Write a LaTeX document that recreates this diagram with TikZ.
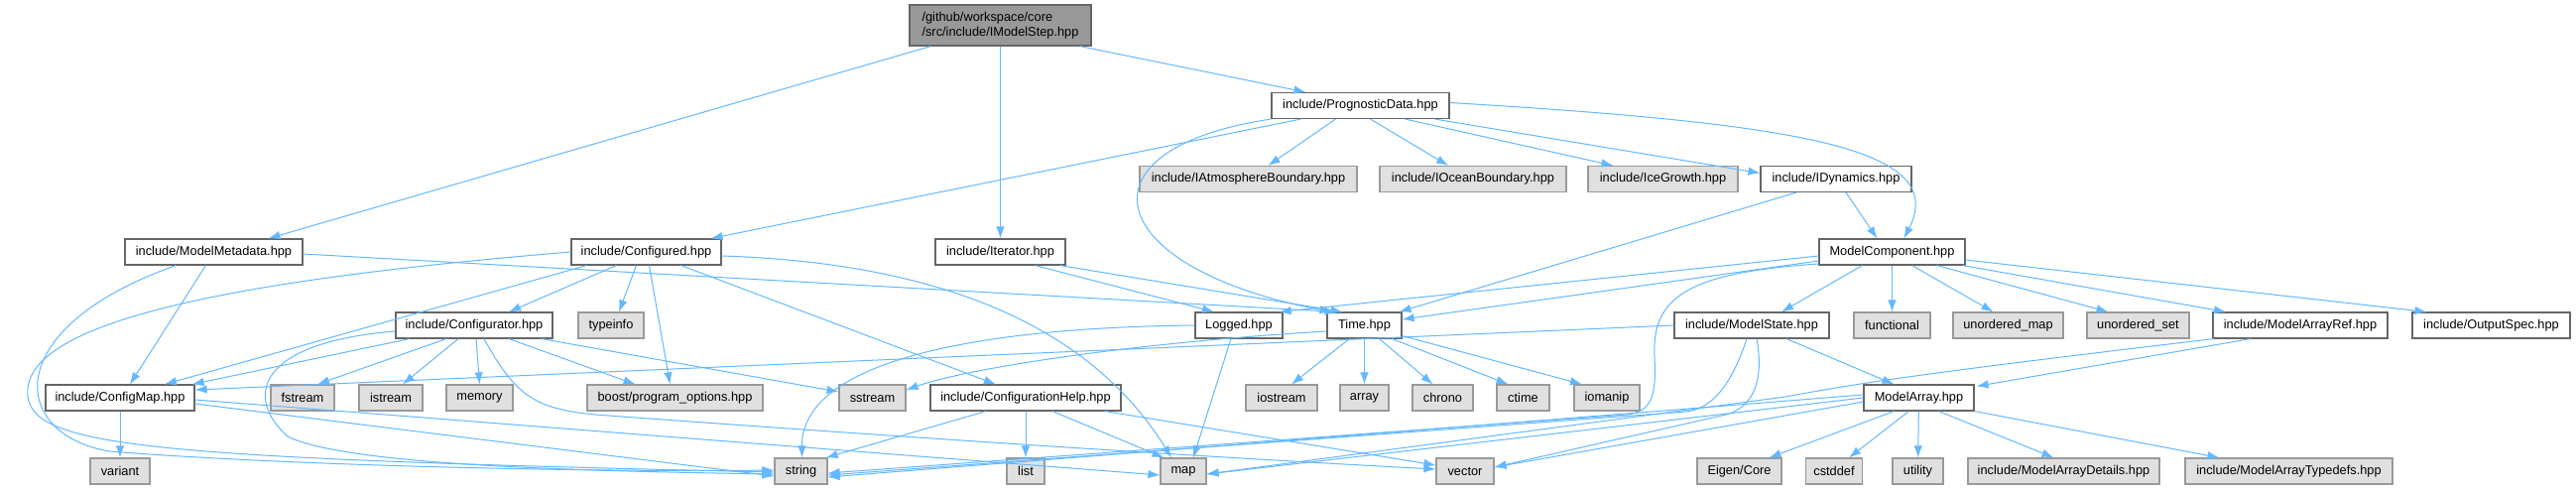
\documentclass[tikz,border=0pt]{standalone}
\usepackage{fontspec}
\setmainfont{Liberation Sans}
\usetikzlibrary{arrows.meta}
\definecolor{edgec}{HTML}{63B8FF}
\definecolor{wborder}{HTML}{666666}
\definecolor{gborder}{HTML}{999999}
\definecolor{gfill}{HTML}{E0E0E0}
\definecolor{rootfill}{HTML}{999999}
\tikzset{
  base/.style={rectangle, inner sep=0pt, minimum height=26pt, line width=1.1pt,
    font=\fontsize{12.8}{15}\selectfont, text=black},
  wbox/.style={base, draw=wborder, fill=white},
  gbox/.style={base, draw=gborder, fill=gfill},
  rootbox/.style={base, draw=wborder, fill=rootfill, minimum height=41pt, align=left},
  dep/.style={draw=edgec, line width=1.0pt, -{Latex[length=12pt,width=8.5pt]}}
}
\begin{document}
\begin{tikzpicture}[x=1pt,y=-1pt]
\fill[white] (0,0) rectangle (2597,493);
\useasboundingbox (0,0) rectangle (2597,493);
% row 0
\node[rootbox, minimum width=183pt] (root) at (1008.5,25.5) {/github/workspace/core\\/src/include/IModelStep.hpp};
% row 1
\node[wbox, minimum width=179pt] (pd) at (1371.5,106.5) {include/PrognosticData.hpp};
% row 2
\node[gbox, minimum width=219pt] (iatm) at (1258.5,180.5) {include/IAtmosphereBoundary.hpp};
\node[gbox, minimum width=188pt] (iocean) at (1485,180.5) {include/IOceanBoundary.hpp};
\node[gbox, minimum width=151pt] (icegrowth) at (1676.5,180.5) {include/IceGrowth.hpp};
\node[wbox, minimum width=152pt] (idyn) at (1851,180.5) {include/IDynamics.hpp};
% row 3
\node[wbox, minimum width=179pt] (mmeta) at (215.5,254) {include/ModelMetadata.hpp};
\node[wbox, minimum width=151pt] (configured) at (651.5,254) {include/Configured.hpp};
\node[wbox, minimum width=131pt] (iterator) at (1008.5,254) {include/Iterator.hpp};
\node[wbox, minimum width=147pt] (mcomp) at (1907.5,254) {ModelComponent.hpp};
% row 4
\node[wbox, minimum width=158pt] (configurator) at (478,328) {include/Configurator.hpp};
\node[gbox, minimum width=66pt] (typeinfo) at (616,328) {typeinfo};
\node[wbox, minimum width=88pt] (logged) at (1249,328) {Logged.hpp};
\node[wbox, minimum width=75pt] (time) at (1375.5,328) {Time.hpp};
\node[wbox, minimum width=156pt] (mstate) at (1766,328) {include/ModelState.hpp};
\node[gbox, minimum width=77pt] (functional) at (1907.5,328) {functional};
\node[gbox, minimum width=111pt] (umap) at (2024.5,328) {unordered\_map};
\node[gbox, minimum width=103pt] (uset) at (2155.5,328) {unordered\_set};
\node[wbox, minimum width=176pt] (marrref) at (2319,328) {include/ModelArrayRef.hpp};
\node[wbox, minimum width=159pt] (outspec) at (2511.5,328) {include/OutputSpec.hpp};
% row 5
\node[wbox, minimum width=150pt] (configmap) at (121,401) {include/ConfigMap.hpp};
\node[gbox, minimum width=64pt] (fstream) at (305,401) {fstream};
\node[gbox, minimum width=64pt] (istream) at (394,401) {istream};
\node[gbox, minimum width=67pt] (memory) at (483.5,401) {memory};
\node[gbox, minimum width=177pt] (boost) at (680.5,401) {boost/program\_options.hpp};
\node[gbox, minimum width=67pt] (sstream) at (879.5,401) {sstream};
\node[wbox, minimum width=192pt] (confhelp) at (1034,401) {include/ConfigurationHelp.hpp};
\node[gbox, minimum width=72pt] (iostream) at (1292,401) {iostream};
\node[gbox, minimum width=49pt] (array) at (1375.5,401) {array};
\node[gbox, minimum width=61pt] (chrono) at (1454.5,401) {chrono};
\node[gbox, minimum width=53pt] (ctime) at (1535.5,401) {ctime};
\node[gbox, minimum width=66pt] (iomanip) at (1620,401) {iomanip};
\node[wbox, minimum width=111pt] (marray) at (1934.5,401) {ModelArray.hpp};
% row 6
\node[gbox, minimum width=60pt] (variant) at (121,475) {variant};
\node[gbox, minimum width=53pt] (string) at (807.5,475) {string};
\node[gbox, minimum width=38pt] (list) at (1034,475) {list};
\node[gbox, minimum width=46pt] (map) at (1193,475) {map};
\node[gbox, minimum width=58pt] (vector) at (1477,475) {vector};
\node[gbox, minimum width=85pt] (eigen) at (1753.5,475) {Eigen/Core};
\node[gbox, minimum width=57pt] (cstddef) at (1849,475) {cstddef};
\node[gbox, minimum width=51pt] (utility) at (1933.5,475) {utility};
\node[gbox, minimum width=193pt] (mad) at (2080.5,475) {include/ModelArrayDetails.hpp};
\node[gbox, minimum width=209pt] (mat) at (2307.5,475) {include/ModelArrayTypedefs.hpp};

% root
\draw[dep] ([xshift=-70pt]root.south) -- ([xshift=55pt]mmeta.north);
\draw[dep] (root) -- (iterator);
\draw[dep] ([xshift=80pt]root.south) -- ([xshift=-55pt]pd.north);
% PrognosticData
\draw[dep] ([xshift=-60pt]pd.south) -- ([xshift=65pt]configured.north);
\draw[dep] (pd.south west) .. controls (1080,150) and (1110,270) .. ([xshift=-33pt]time.north);
\draw[dep] ([xshift=-25pt]pd.south) -- ([xshift=20pt]iatm.north);
\draw[dep] ([xshift=10pt]pd.south) -- ([xshift=-25pt]iocean.north);
\draw[dep] ([xshift=45pt]pd.south) -- ([xshift=-50pt]icegrowth.north);
\draw[dep] ([xshift=75pt]pd.south) -- ([yshift=6pt]idyn.west);
\draw[dep] ([yshift=3pt]pd.east) .. controls (1820,125) and (1965,150) .. ([xshift=12pt]mcomp.north);
% IDynamics
\draw[dep] ([xshift=10pt]idyn.south) -- ([xshift=-15pt]mcomp.north);
\draw[dep] ([xshift=-40pt]idyn.south) -- ([xshift=-3pt]time.north east);
% ModelMetadata
\draw[dep] ([xshift=-8pt]mmeta.south) -- ([xshift=10pt]configmap.north);
\draw[dep] ([xshift=-38pt]mmeta.south) .. controls (0,330) and (8,437) .. (110,455) .. controls (300,470) and (600,476) .. ([yshift=1pt]string.west);
\draw[dep] ([yshift=-2pt]mmeta.east) -- ([xshift=-28pt]time.north);
% Configured
\draw[dep] ([xshift=-60pt]configured.south) -- ([xshift=45pt]configmap.north);
\draw[dep] (configured.west) .. controls (200,285) and (20,330) .. (28,400) .. controls (35,450) and (150,462) .. ([yshift=-1pt]string.west);
\draw[dep] ([xshift=-30pt]configured.south) -- ([xshift=35pt]configurator.north);
\draw[dep] ([xshift=-10pt]configured.south) -- ([xshift=8pt]typeinfo.north);
\draw[dep] ([xshift=3pt]configured.south) -- ([xshift=-5pt]boost.north);
\draw[dep] ([xshift=35pt]configured.south) -- ([xshift=-30pt]confhelp.north);
\draw[dep] ([yshift=-4pt]configured.east) .. controls (950,265) and (1100,330) .. ([xshift=-12pt]map.north);
% Configurator
\draw[dep] ([xshift=-65pt]configurator.south) -- ([xshift=-3pt]configmap.north east);
\draw[dep] ([yshift=-6pt]configurator.west) .. controls (260,345) and (245,400) .. (290,440) .. controls (350,470) and (600,475) .. ([yshift=-3pt]string.west);
\draw[dep] ([xshift=-28pt]configurator.south) -- ([xshift=15pt]fstream.north);
\draw[dep] ([xshift=-16pt]configurator.south) -- ([xshift=12pt]istream.north);
\draw[dep] ([xshift=2pt]configurator.south) -- (memory.north);
\draw[dep] ([xshift=35pt]configurator.south) -- ([xshift=-40pt]boost.north);
\draw[dep] ([xshift=68pt]configurator.south) -- ([yshift=6pt]sstream.west);
\draw[dep] ([xshift=10pt]configurator.south) .. controls (520,400) and (540,412) .. (600,418) .. controls (900,440) and (1200,460) .. ([yshift=2pt]vector.west);
% Iterator
\draw[dep] ([xshift=35pt]iterator.south) -- ([xshift=-25pt]logged.north);
\draw[dep] ([xshift=60pt]iterator.south) -- ([xshift=-22pt]time.north);
% ModelComponent
\draw[dep] ([yshift=-4pt]mcomp.west) -- ([xshift=-4pt]logged.north east);
\draw[dep] ([yshift=-9pt]mcomp.west) -- ([yshift=6pt]time.east);
\draw[dep] ([yshift=-12pt]mcomp.west) .. controls (1700,275) and (1665,300) .. (1668,360) .. controls (1670,400) and (1665,415) .. (1640,418) -- ([yshift=-2pt]string.east);
\draw[dep] ([xshift=-30pt]mcomp.south) -- ([xshift=30pt]mstate.north);
\draw[dep] (mcomp) -- (functional);
\draw[dep] ([xshift=20pt]mcomp.south) -- ([xshift=-15pt]umap.north);
\draw[dep] ([xshift=45pt]mcomp.south) -- ([xshift=-30pt]uset.north);
\draw[dep] ([xshift=71pt]mcomp.south) -- ([xshift=-75pt]marrref.north);
\draw[dep] ([yshift=-8pt]mcomp.east) -- ([xshift=-65pt]outspec.north);
% Time
\draw[dep] ([yshift=-6pt]time.west) .. controls (1150,345) and (980,370) .. ([yshift=8pt]sstream.east);
\draw[dep] ([xshift=-15pt]time.south) -- ([xshift=10pt]iostream.north);
\draw[dep] (time) -- (array);
\draw[dep] ([xshift=15pt]time.south) -- ([xshift=-10pt]chrono.north);
\draw[dep] ([xshift=28pt]time.south) -- ([xshift=-15pt]ctime.north);
\draw[dep] ([yshift=3pt]time.south east) -- ([xshift=-25pt]iomanip.north);
% Logged
\draw[dep] (logged.west) .. controls (1000,330) and (808,360) .. ([xshift=1pt]string.north);
\draw[dep] ([xshift=-8pt]logged.south) -- ([xshift=10pt]map.north);
% ModelState
\draw[dep] (mstate.west) -- ([yshift=8pt]configmap.east);
\draw[dep] ([xshift=35pt]mstate.south) -- ([xshift=-25pt]marray.north);
\draw[dep] ([xshift=-5pt]mstate.south) .. controls (1745,390) and (1725,412) .. (1700,415) -- ([yshift=-4pt]string.east);
\draw[dep] ([xshift=5pt]mstate.south) .. controls (1778,380) and (1770,410) .. (1740,418) -- ([yshift=4pt]vector.east);
% ModelArrayRef
\draw[dep] ([xshift=-50pt]marrref.south) -- ([xshift=2pt,yshift=-2pt]marray.north east);
\draw[dep] ([xshift=-87pt]marrref.south) .. controls (1950,375) and (1880,385) .. (1800,400) -- ([yshift=-3pt]map.east);
% ModelArray
\draw[dep] ([yshift=3pt]marray.west) -- ([yshift=-6pt]string.east);
\draw[dep] (marray.west) -- ([yshift=-3pt]map.east);
\draw[dep] ([yshift=-4pt]marray.west) -- ([yshift=4pt]vector.east);
\draw[dep] ([xshift=-25pt]marray.south) -- ([xshift=30pt]eigen.north);
\draw[dep] ([xshift=-10pt]marray.south) -- ([xshift=15pt]cstddef.north);
\draw[dep] (marray) -- (utility);
\draw[dep] ([xshift=20pt]marray.south) -- ([xshift=-10pt]mad.north);
\draw[dep] (marray.south east) -- ([xshift=-70pt]mat.north);
% ConfigurationHelp
\draw[dep] ([xshift=-40pt]confhelp.south) -- ([xshift=-2pt]string.north east);
\draw[dep] (confhelp) -- (list);
\draw[dep] ([xshift=27pt]confhelp.south) -- ([xshift=4pt]map.north west);
\draw[dep] ([xshift=80pt]confhelp.south) -- ([yshift=6pt]vector.west);
% ConfigMap
\draw[dep] (configmap) -- (variant);
\draw[dep] ([yshift=-6pt]configmap.east) -- ([yshift=-5pt]string.west);
\draw[dep] ([yshift=-2pt]configmap.east) -- ([yshift=-4pt]map.west);
\end{tikzpicture}
\end{document}
